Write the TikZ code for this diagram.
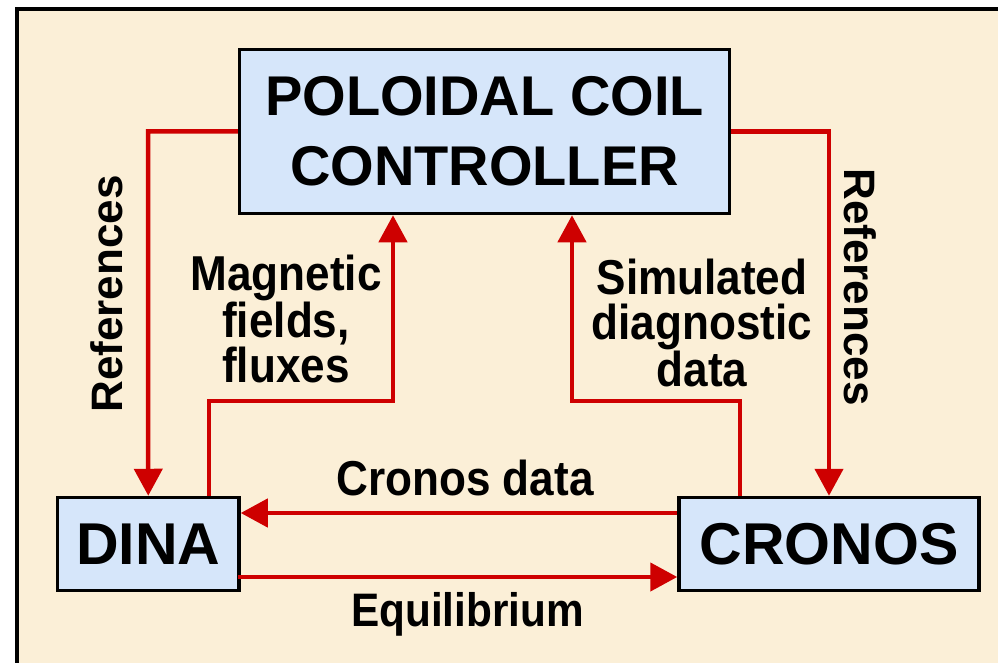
\documentclass[tikz,border=0pt]{standalone}
\usepackage{fontspec}
\setmainfont{Liberation Sans}
\newfontfamily\boxfont{Liberation Sans}
\newfontfamily\labfont{Liberation Sans}[FakeStretch=0.9]
\usetikzlibrary{arrows.meta}
\definecolor{parch}{RGB}{251,239,215}
\definecolor{boxblue}{RGB}{214,230,250}
\definecolor{flowred}{RGB}{206,0,0}
\begin{document}
\begin{tikzpicture}[x=1pt,y=-1pt,
  block/.style={draw=black,line width=3.5pt,fill=boxblue,inner sep=0pt,align=center},
  flow/.style={draw=flowred,line width=4.5pt,-{Triangle[width=28pt,length=27pt]}},
  lab/.style={inner sep=0pt,align=center,font=\labfont\bfseries\fontsize{49}{44.5}\selectfont},
  reflab/.style={inner sep=0pt,font=\boxfont\bfseries\fontsize{44}{50}\selectfont}]
\useasboundingbox (0,0) rectangle (998,663);
\clip (0,0) rectangle (998,663);
\fill[white] (0,0) rectangle (998,663);
\draw[fill=parch,line width=4pt] (17,9.5) rectangle (1010,680);

% boxes
\node[block,minimum width=490pt,minimum height=164pt,
      font=\boxfont\bfseries\fontsize{56}{70}\selectfont] (pcc) at (484.5,131.5)
      {POLOIDAL COIL\\CONTROLLER};
\node[block,minimum width=181.5pt,minimum height=93pt,
      font=\boxfont\bfseries\fontsize{59}{70}\selectfont] (dina) at (148.25,544) {DINA};
\node[block,minimum width=300pt,minimum height=93pt,
      font=\boxfont\bfseries\fontsize{59}{70}\selectfont] (cronos) at (829,544) {CRONOS};

% helper coordinates
\coordinate (refL) at (148,131.5);
\coordinate (refR) at (829,131.5);
\coordinate (mA) at (209,0);
\coordinate (mB) at (393,401);
\coordinate (sA) at (740,0);
\coordinate (sB) at (572,401);
\coordinate (cd) at (0,513);
\coordinate (eq) at (0,577);

% connectors
\draw[flow] (pcc.west) -- (refL) -- (dina.north);
\draw[flow] (pcc.east) -- (refR) -- (cronos.north);
\draw[flow] (dina.north -| mA) |- (mB) -- (pcc.south -| mB);
\draw[flow] (cronos.north -| sA) |- (sB) -- (pcc.south -| sB);
\draw[flow] (cronos.west |- cd) -- (dina.east |- cd);
\draw[flow] ([xshift=-3pt]dina.east |- eq) -- (cronos.west |- eq);

% labels
\node[reflab,rotate=90] (lrefL) at (107,294) {References};
\node[reflab,rotate=-90] (lrefR) at (860,287) {References};
\node[lab,anchor=north] (lmag) at (286,255) {Magnetic\\fields,\\fluxes};
\node[lab,anchor=north] (lsim) at (702,259) {Simulated\\diagnostic\\data};
\node[lab,anchor=base] (lcd) at (465,495) {Cronos data};
\node[lab,anchor=base,font=\labfont\bfseries\fontsize{47}{50}\selectfont] (leq) at (467.5,626) {Equilibrium};
\end{tikzpicture}
\end{document}
